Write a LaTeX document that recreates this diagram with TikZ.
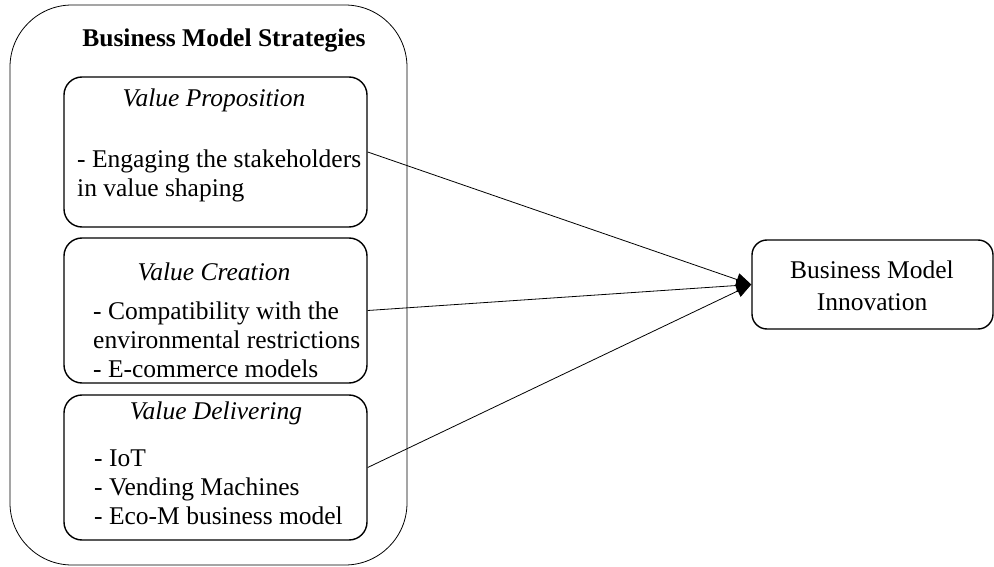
\documentclass[tikz,border=0pt]{standalone}
\usepackage{fontspec}
\setmainfont{Liberation Serif}
\usetikzlibrary{positioning, arrows.meta}

\begin{document}
\begin{tikzpicture}[x=1pt, y=-1pt, >={Triangle[length=15pt,width=13pt]}]
    \tikzstyle{box}=[draw, line width=1.4pt, rounded corners=18pt, minimum width=303pt, inner sep=0pt]
    \tikzstyle{txt}=[inner sep=0pt, font=\fontsize{25.5}{29}\selectfont]
    \useasboundingbox (0,0) rectangle (994,567);

    \node[draw, line width=0.8pt, rounded corners=62pt, minimum width=397pt, minimum height=560pt] (s_0) at (208.5,285) {};
    \node[txt, font=\fontsize{25.5}{29}\selectfont\bfseries] (t_0) at (224,40) {Business Model Strategies};

    \node[box, minimum height=150pt] (v_1) at (215.5,152) {};
    \node[box, minimum height=145pt] (v_2) at (215.5,310.5) {};
    \node[box, minimum height=145pt] (v_3) at (215.5,467.5) {};
    \node[draw, line width=1.4pt, rounded corners=15pt, minimum width=241pt, minimum height=89pt] (b_1) at (872.5,284.5) {};

    \node[txt, font=\fontsize{25.5}{29}\selectfont\itshape] (h_1) at (214,100) {Value Proposition};
    \node[txt, align=left, anchor=west] (l_1) at (77,176) {- Engaging the stakeholders\\in value shaping};

    \node[txt, font=\fontsize{25.5}{29}\selectfont\itshape] (h_2) at (214,272) {Value Creation};
    \node[txt, align=left, anchor=west] (l_2) at (93,340) {- Compatibility with the\\environmental restrictions\\- E-commerce models};

    \node[txt, font=\fontsize{25.5}{29}\selectfont\itshape] (h_3) at (216,413) {Value Delivering};
    \node[txt, align=left, anchor=west] (l_3) at (94,487) {- IoT\\- Vending Machines\\- Eco-M business model};

    \node[txt, align=center] (l_4) at (872,286) {Business Model\\[3pt]Innovation};

    \path[->, line width=0.8pt]
    (v_1.east) edge (b_1.west)
    (v_2.east) edge (b_1.west)
    (v_3.east) edge (b_1.west);
\end{tikzpicture}
\end{document}
